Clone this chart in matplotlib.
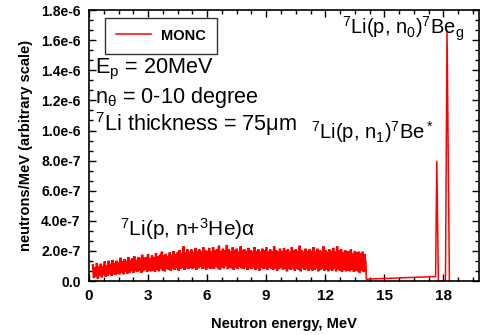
import numpy as np
import matplotlib
matplotlib.use("Agg")
import matplotlib.pyplot as plt
from matplotlib.ticker import MultipleLocator, FixedLocator, FixedFormatter

plt.rcParams['font.family'] = ['Liberation Sans', 'DejaVu Sans']
plt.rcParams['mathtext.fontset'] = 'custom'
plt.rcParams['mathtext.rm'] = 'Liberation Sans'
plt.rcParams['mathtext.it'] = 'Liberation Sans'
plt.rcParams['mathtext.default'] = 'regular'

# ---------------- data (values in units of 1e-7 neutrons/MeV) ----------------
cont_start = 0.2      # MeV, first energy of the n+3He continuum
cont_step = 0.1       # MeV between successive upper tips
# upper tips of the noisy continuum, E = 0.2 ... 14.0 MeV
cont_hi = [1.05, 0.9, 1.2, 0.95, 1.15, 1.0, 1.3, 1.05, 1.35, 1.15,
           1.4, 1.2, 1.35, 1.25, 1.55, 1.3, 1.45, 1.35, 1.6, 1.4,
           1.5, 1.65, 1.4, 1.6, 1.5, 1.75, 1.55, 1.6, 1.8, 1.5,
           1.7, 1.6, 1.85, 1.65, 1.75, 1.95, 1.7, 1.8, 1.65, 1.9,
           1.75, 2.0, 1.8, 1.9, 2.05, 1.85, 2.3, 1.9, 2.1, 1.95,
           2.1, 1.9, 2.2, 2.0, 2.1, 1.95, 2.25, 2.05, 2.0, 2.2,
           1.95, 2.25, 2.05, 2.1, 2.35, 2.0, 2.15, 2.05, 2.4, 2.1,
           2.0, 2.25, 2.05, 2.15, 1.95, 2.3, 2.05, 2.1, 2.0, 2.2,
           2.05, 1.95, 2.25, 2.0, 2.1, 1.95, 2.15, 2.05, 2.25, 1.95,
           2.1, 2.0, 2.3, 2.05, 1.95, 2.15, 2.0, 2.2, 2.05, 2.1,
           1.95, 2.25, 2.05, 2.1, 2.0, 2.35, 2.05, 1.95, 2.15, 2.0,
           2.1, 2.0, 2.25, 1.95, 2.15, 2.05, 2.0, 2.3, 2.05, 1.95,
           2.1, 2.0, 2.2, 1.95, 2.3, 2.05, 2.1, 1.9, 2.05, 2.0,
           1.95, 2.1, 1.85, 2.0, 1.9, 1.95, 1.85, 1.95, 1.8]
# lower tips of the noisy continuum, E = 0.25 ... 14.05 MeV
cont_lo = [0.2, 0.3, 0.15, 0.35, 0.25, 0.4, 0.3, 0.35, 0.45, 0.35,
           0.45, 0.4, 0.5, 0.45, 0.55, 0.45, 0.6, 0.5, 0.55, 0.65,
           0.55, 0.65, 0.6, 0.7, 0.55, 0.65, 0.75, 0.6, 0.7, 0.65,
           0.7, 0.6, 0.75, 0.65, 0.8, 0.7, 0.65, 0.8, 0.75, 0.7,
           0.8, 0.75, 0.85, 0.7, 0.8, 0.9, 0.75, 0.85, 0.8, 0.9,
           0.8, 0.9, 0.75, 0.85, 0.95, 0.8, 0.85, 0.75, 0.9, 0.8,
           0.85, 0.8, 0.95, 0.85, 0.75, 0.9, 0.85, 1.0, 0.8, 0.9,
           0.85, 0.75, 0.9, 0.8, 0.95, 0.85, 0.8, 0.9, 0.75, 0.85,
           0.8, 0.9, 0.75, 0.85, 0.7, 0.9, 0.8, 0.85, 0.75, 0.9,
           0.8, 0.75, 0.85, 0.7, 0.8, 0.9, 0.75, 0.85, 0.65, 0.8,
           0.75, 0.85, 0.7, 0.8, 0.75, 0.65, 0.85, 0.75, 0.8, 0.7,
           0.8, 0.7, 0.75, 0.85, 0.65, 0.75, 0.8, 0.7, 0.75, 0.65,
           0.75, 0.7, 0.8, 0.65, 0.75, 0.7, 0.6, 0.75, 0.65, 0.7,
           0.65, 0.75, 0.6, 0.7, 0.65, 0.55, 0.7, 0.6, 0.65]
# high-energy part: flat tail and the two discrete peaks
tail_e = [14.05, 14.08, 14.2, 15.0, 16.0, 17.0, 17.6, 17.66, 17.74, 18.1, 18.18, 18.3]
tail_v = [1.3, 0.12, 0.13, 0.17, 0.22, 0.27, 0.3, 7.95, 0.0, 0.0, 16.6, 0.0]

scale = 1e-7
x_ticks = [0, 3, 6, 9, 12, 15, 18]
y_ticks = [0, 2e-7, 4e-7, 6e-7, 8e-7, 1.0e-6, 1.2e-6, 1.4e-6, 1.6e-6, 1.8e-6]
y_tick_labels = ["0.0", "2.0e-7", "4.0e-7", "6.0e-7", "8.0e-7",
                 "1.0e-6", "1.2e-6", "1.4e-6", "1.6e-6", "1.8e-6"]

# ---------------- assemble the spectrum ----------------
e_hi = cont_start + cont_step * np.arange(len(cont_hi))
e_lo = e_hi + cont_step / 2
cont_e = np.empty(2 * len(cont_hi))
cont_e[0::2] = e_hi
cont_e[1::2] = e_lo
cont_v = np.empty(2 * len(cont_hi))
cont_v[0::2] = cont_hi
cont_v[1::2] = cont_lo

fig = plt.figure(figsize=(4.85, 3.35), dpi=100)
ax = fig.add_axes([0.1835, 0.161, 0.804, 0.809])

ax.plot(cont_e, np.array(cont_v) * scale, color='red', lw=1.7, label='MONC',
        solid_joinstyle='miter')
ax.plot(tail_e, np.array(tail_v) * scale, color='red', lw=1.1)

ax.set_xlim(0, 19.8)
ax.set_ylim(0, 1.8e-6)
ax.xaxis.set_major_locator(FixedLocator(x_ticks))
ax.xaxis.set_minor_locator(MultipleLocator(0.75))
ax.yaxis.set_major_locator(FixedLocator(y_ticks))
ax.yaxis.set_major_formatter(FixedFormatter(y_tick_labels))
ax.yaxis.set_minor_locator(MultipleLocator(2e-7 / 3))
ax.tick_params(which='both', direction='in', top=True, right=True, width=1)
ax.tick_params(which='major', length=5, pad=6)
ax.tick_params(axis='y', which='major', labelsize=10)
ax.tick_params(axis='x', which='major', labelsize=11)
for lab in ax.get_xticklabels() + ax.get_yticklabels():
    lab.set_fontweight('bold')
ax.tick_params(which='minor', length=3)
for sp in ax.spines.values():
    sp.set_linewidth(1.2)

ax.set_xlabel('Neutron energy, MeV', fontsize=10.5, fontweight='bold', labelpad=10)
ax.set_ylabel('neutrons/MeV (arbitrary scale)', fontsize=10.5, fontweight='bold', labelpad=6)

leg = ax.legend(handles=[ax.lines[1]], labels=['MONC'],
                loc='upper left', bbox_to_anchor=(0.041, 0.972), borderaxespad=0,
                prop={'weight': 'bold', 'size': 10.5}, fancybox=False, frameon=True,
                edgecolor='black', handlelength=2.4, handletextpad=0.7, borderpad=0.75)
leg.get_frame().set_linewidth(1.0)

fs = 15.6
ax.text(0.30, 1.38e-6, r'E$_p$ = 20MeV', fontsize=fs)
ax.text(0.30, 1.185e-6, r'n$_{θ}$ = 0-10 degree', fontsize=fs)
ax.text(0.30, 1.00e-6, r'$^7$Li thickness = 75μm', fontsize=fs)
ax.text(12.85, 1.64e-6, r'$^7$Li(p, n$_0$)$^7$Be$_g$', fontsize=14.5)
ax.text(11.25, 0.947e-6, r'$^7$Li(p, n$_1$)$^7$Be$^*$', fontsize=14.5)
ax.text(1.55, 0.30e-6, r'$^7$Li(p, n+$^3$He)α', fontsize=15)

fig.savefig('out.png', dpi=100)
